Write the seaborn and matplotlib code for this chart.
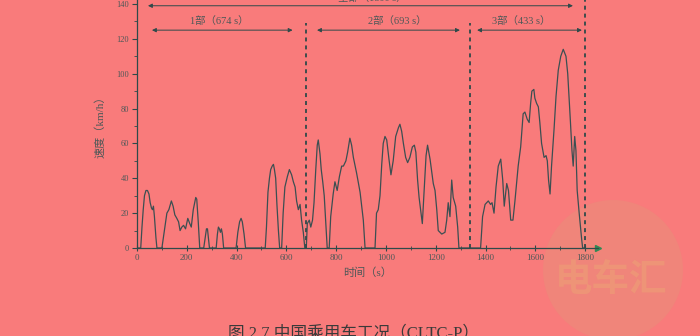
import numpy as np
import pandas as pd
import matplotlib
matplotlib.use("Agg")
import matplotlib.pyplot as plt
from matplotlib.ticker import MultipleLocator
from matplotlib.patches import Circle
import seaborn as sns

# ---- data ----
time_s = [0, 15, 20, 25, 30, 36, 42, 48, 53, 58, 62, 66, 70, 76, 80,
          100, 110, 120, 128, 138, 145, 152, 160, 167, 173, 180, 187, 195, 204, 212, 218, 226, 236, 240, 246, 252,
          268, 274, 279, 283, 288, 291,
          318, 323, 327, 331, 335, 339, 343, 348,
          398, 405, 412, 418, 423, 430, 436,
          515, 520, 526, 532, 537, 543, 548, 552, 557, 562, 568, 573,
          581, 587, 594, 604, 612, 621, 628, 635, 641, 648, 655, 661, 668, 674, 680, 684, 692, 698, 705, 711,
          718, 724, 728, 735, 740, 746, 752, 758, 764,
          772, 778, 788, 795, 804, 813, 822, 829, 839, 846, 855, 862, 869, 882, 896, 909, 916,
          956, 962, 969, 976, 983, 989, 996, 1003, 1012, 1020, 1029, 1039, 1050, 1056, 1063, 1070, 1079, 1087,
          1096, 1106, 1114, 1120, 1127, 1133, 1141, 1146, 1154, 1161, 1167, 1177, 1190, 1197, 1204, 1210, 1224,
          1237, 1244, 1250, 1257, 1264, 1270, 1280, 1288, 1293,
          1380, 1388, 1398, 1411, 1420, 1426, 1434, 1442, 1451, 1461, 1469, 1475, 1485, 1492, 1501, 1510, 1518,
          1531, 1541, 1551, 1558, 1567, 1575, 1581, 1586, 1594, 1598, 1605, 1612, 1618, 1625, 1635, 1643, 1648,
          1653, 1659, 1665, 1675, 1683, 1692, 1702, 1712, 1723, 1730, 1736, 1741, 1747, 1752, 1758, 1763, 1768,
          1776, 1786, 1790, 1800]
speed_kmh = [0, 0, 12, 22, 30, 33, 33, 31, 26, 23, 22, 24, 18, 6, 0,
             0, 10, 20, 22, 27, 24, 19, 17, 15, 10, 12, 13, 11, 17, 14, 12, 22, 29, 28, 15, 0,
             0, 6, 11, 11, 4, 0,
             0, 8, 12, 11, 9, 11, 8, 0,
             0, 9, 15, 17, 15, 8, 0,
             0, 12, 32, 40, 45, 47, 48, 45, 40, 25, 10, 0,
             0, 20, 35, 41, 45, 42, 38, 35, 27, 22, 25, 16, 9, 0, 0, 14, 16, 12, 16, 26,
             45, 59, 62, 54, 45, 38, 30, 15, 0,
             0, 18, 31, 38, 33, 41, 47, 47, 50, 55, 63, 59, 52, 43, 32, 16, 0,
             0, 20, 22, 30, 48, 60, 64, 62, 51, 42, 50, 64, 69, 71, 67, 60, 52, 49,
             52, 58, 59, 55, 39, 29, 20, 14, 35, 53, 59, 51, 37, 33, 22, 10, 8,
             9, 16, 26, 18, 39, 29, 24, 12, 0,
             0, 18, 25, 27, 25, 26, 20, 35, 47, 51, 39, 24, 37, 33, 16, 16, 27,
             47, 58, 77, 78, 74, 72, 83, 90, 91, 86, 83, 81, 72, 60, 52, 53, 50,
             39, 31, 47, 68, 87, 102, 110, 114, 110, 100, 85, 72, 56, 47, 64, 56, 33,
             20, 5, 0, 0]

phase_bounds = [0, 677, 1337, 1800]
phase_labels = ["1部（674 s）", "2部（693 s）", "3部（433 s）"]
total_label = "全部（1800 s）"
x_ticks = [0, 200, 400, 600, 800, 1000, 1200, 1400, 1600, 1800]
y_ticks = [0, 20, 40, 60, 80, 100, 120, 140]
x_title = "时间（s）"
y_title = "速度（km/h）"
caption = "图 2.7 中国乘用车工况（CLTC-P）"
watermark = "电车汇"

df = pd.DataFrame({"t": time_s, "v": speed_kmh})

# ---- style ----
BG = "#F97B7B"
LINE = "#3c4f52"
AX = "#2f4a4a"
TXT = "#4d5858"
sns.set_theme(style="ticks")
plt.rcParams["font.family"] = ["Liberation Serif", "Noto Sans CJK SC"]
plt.rcParams["axes.unicode_minus"] = False

fig = plt.figure(figsize=(7.0, 3.36), dpi=100, facecolor=BG)

# faint watermark disc behind everything
circ = Circle((6.13, 3.36 - 2.70), 0.70, transform=fig.dpi_scale_trans,
              facecolor="#F0857A", edgecolor="none", zorder=-2)
fig.patches.append(circ)
fig.text(611 / 700, 1 - 280 / 336, watermark, ha="center", va="center", fontsize=27,
         color="#EE9477", fontweight="bold", zorder=-1, family=["Noto Sans CJK SC"])

ax = fig.add_axes([137 / 700, 88 / 336, 460.6 / 700, 248 / 336])
ax.set_facecolor("none")
ax.set_zorder(1)

sns.lineplot(data=df, x="t", y="v", ax=ax, color=LINE, linewidth=0.9, estimator=None)

ax.set_xlim(0, 1850)
ax.set_ylim(0, 142.3)
ax.set_xticks(x_ticks)
ax.set_yticks(y_ticks)
ax.xaxis.set_minor_locator(MultipleLocator(100))
ax.yaxis.set_minor_locator(MultipleLocator(10))
ax.tick_params(axis="x", which="major", direction="inout", length=5, width=0.8,
               color=AX, labelsize=6.5, labelcolor=TXT, pad=2)
ax.tick_params(axis="x", which="minor", direction="inout", length=3, width=0.6, color=AX)
ax.tick_params(axis="y", which="major", direction="out", length=3.5, width=0.8,
               color=AX, labelsize=6, labelcolor=TXT, pad=2)
ax.tick_params(axis="y", which="minor", direction="out", length=2, width=0.6, color=AX)
for s in ["top", "right"]:
    ax.spines[s].set_visible(False)
for s in ["left", "bottom"]:
    ax.spines[s].set_color(AX)
    ax.spines[s].set_linewidth(0.9)
# small arrow tip at the end of the time axis
ax.plot([1.0], [0], marker=">", markersize=4, color="#2f8a55", transform=ax.get_yaxis_transform(),
        clip_on=False)

ax.set_xlabel(x_title, fontsize=8, color=TXT, labelpad=4)
ax.set_ylabel(y_title, fontsize=8, color=TXT, labelpad=8)

# phase dividers
for b in phase_bounds[1:3]:
    ax.plot([b, b], [0, 129], ls=(0, (2.2, 2.2)), color=AX, lw=1.3, clip_on=False)
ax.plot([phase_bounds[3]] * 2, [0, 142.3], ls=(0, (2.2, 2.2)), color=AX, lw=1.3, clip_on=False)

# arrows
arrow_spans = [(60, 625), (723, 1297), (1366, 1787)]
label_x = [331, 1044, 1544]
ap = dict(arrowstyle="<|-|>", mutation_scale=6, lw=0.7, color=AX, shrinkA=0, shrinkB=0)
for (a, b), lx, lab in zip(arrow_spans, label_x, phase_labels):
    ax.annotate("", xy=(a, 125), xytext=(b, 125), arrowprops=ap, annotation_clip=False)
    ax.text(lx, 130.5, lab, ha="center", va="center", fontsize=7.5, color=TXT)
ax.annotate("", xy=(44, 139), xytext=(1751, 139), arrowprops=ap, annotation_clip=False)
ax.text(944, 140.6, total_label, ha="center", va="bottom", fontsize=7.5, color=TXT, clip_on=False)

# caption (partly cut off at the bottom edge)
fig.text(353 / 700, 1 - 325 / 336, caption, ha="center", va="top", fontsize=12, color="#3a3a3a")

fig.savefig("out.png", dpi=100, facecolor=BG)
